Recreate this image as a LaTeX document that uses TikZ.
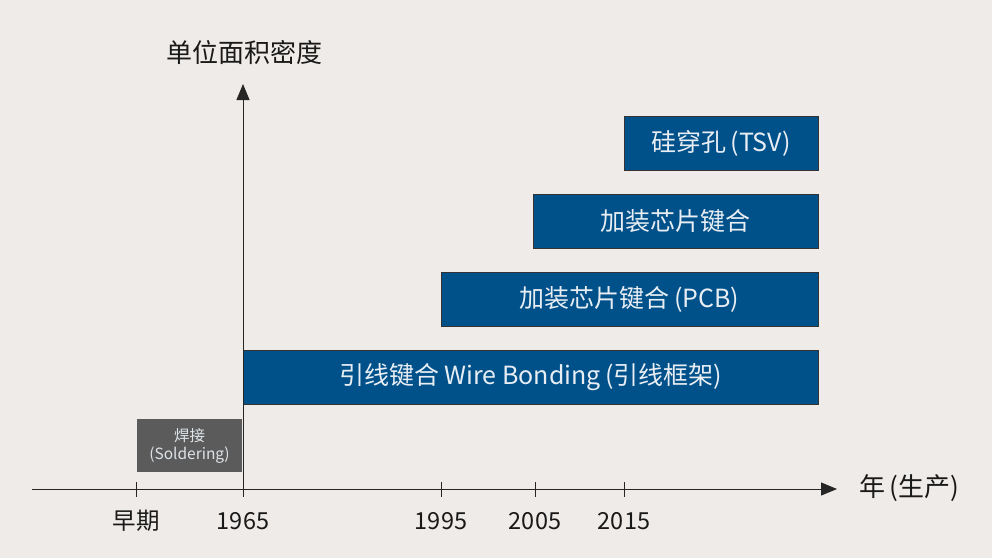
\documentclass[tikz,border=0pt]{standalone}
\usepackage{fontspec}
\setmainfont{Noto Sans CJK SC}
\usetikzlibrary{arrows.meta}
\definecolor{bgc}{HTML}{EFEBE8}
\definecolor{bluebox}{HTML}{00508A}
\definecolor{graybox}{HTML}{5B5B5B}
\definecolor{boxtext}{HTML}{E8EEF3}
\tikzset{
  bar/.style={fill=bluebox, draw=black!80, line width=0.8pt, text=boxtext, font=\fontsize{25}{28}\selectfont, inner sep=0pt},
  solder/.style={fill=graybox, draw=none, text=boxtext!90!gray, font=\fontsize{15.5}{18}\selectfont, align=center, inner sep=0pt},
  axis/.style={line width=1pt, draw=black!85, -{Triangle[length=16pt,width=13pt]}},
  tick/.style={line width=1pt, draw=black!85},
  ticklab/.style={font=\fontsize{23.5}{26}\selectfont, text=black!90},
  axlab/.style={font=\fontsize{26}{29}\selectfont, text=black!90}
}
\begin{document}
\begin{tikzpicture}[x=1pt,y=-1pt]
\fill[bgc] (0,0) rectangle (992,558);
\useasboundingbox (0,0) rectangle (992,558);
% boxes
\draw[bar] (624,116) rectangle (818,170);
\node[bar, draw=none, fill=none] (tsv) at (721,143) {硅穿孔\,(TSV)};
\draw[bar] (533,194) rectangle (818,248);
\node[bar, draw=none, fill=none] (fc) at (675.5,221) {加装芯片键合};
\draw[bar] (441,272) rectangle (818,326);
\node[bar, draw=none, fill=none] (pcb) at (629.5,299) {加装芯片键合\,(PCB)};
\draw[bar] (243,350) rectangle (818,404);
\node[bar, draw=none, fill=none] (wb) at (530.5,377) {引线键合 Wire Bonding\,(引线框架)};
\fill[graybox] (137,419) rectangle (242,472);
\node[solder] (sol) at (189.5,445.5) {焊接\\(Soldering)};
% axes
\coordinate (xs) at (32,489);
\coordinate (xe) at (837,489);
\coordinate (ys) at (243,489);
\coordinate (ye) at (243,84);
\draw[axis] (xs) -- (xe);
\draw[axis] (ys) -- (ye);
\node[axlab, anchor=west] (xl) at (856,488) {年\,(生产)};
\node[axlab] (yl) at (244,52) {单位面积密度};
% ticks
\foreach \x/\lab/\nm in {136/早期/a, 243/1965/b, 441/1995/c, 535/2005/d, 624/2015/e}{
  \draw[tick] (\x,482) -- (\x,497);
  \node[ticklab] (t\nm) at (\x,521) {\lab};
}
\end{tikzpicture}
\end{document}
